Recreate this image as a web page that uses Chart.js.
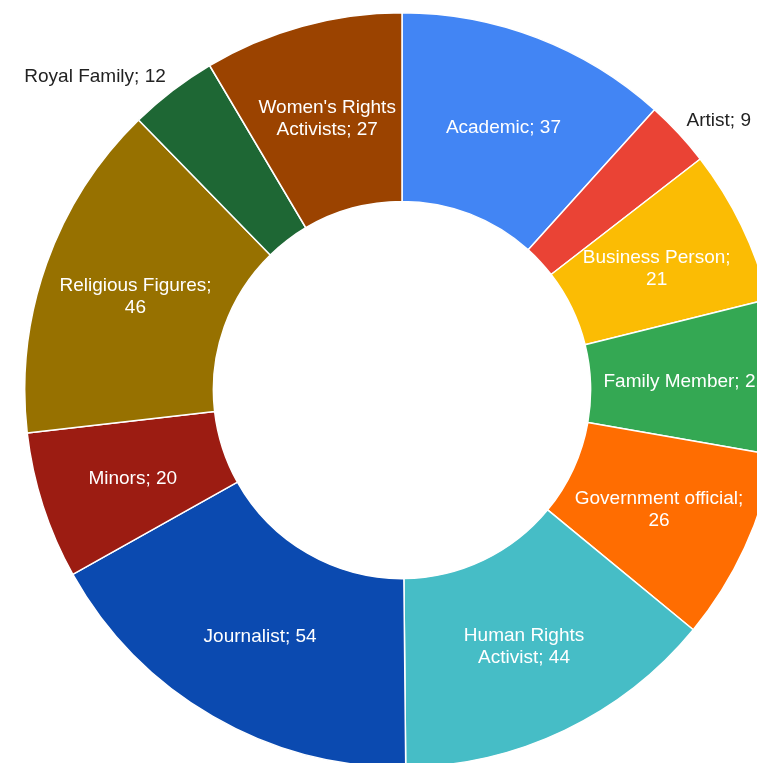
<!DOCTYPE html>
<html>
<head>
<meta charset="utf-8">
<script src="https://cdn.jsdelivr.net/npm/chart.js@4"></script>
<style>
  html, body { margin: 0; padding: 0; background: #fff; overflow: hidden; }
  body { width: 757px; height: 763px; position: relative; }
  #mycanvas { position: absolute; left: 24px; top: 12px; }
</style>
</head>
<body>
<canvas id="mycanvas" width="756" height="756"></canvas>
<script>
// categories and counts, in drawing order (clockwise from 12 o'clock)
var categories = [
  'Academic', 'Artist', 'Business Person', 'Family Member', 'Government official',
  'Human Rights Activist', 'Journalist', 'Minors', 'Religious Figures',
  'Royal Family', "Women's Rights Activists"
];
var counts = [37, 9, 21, 21, 26, 44, 54, 20, 46, 12, 27];
var sliceColors = [
  '#4285F4', '#EA4335', '#FBBC04', '#34A853', '#FF6D01',
  '#46BDC6', '#0B4AB0', '#9C1C12', '#977100', '#1E6734', '#9B4300'
];
// word index where the slice label wraps onto a second line (0 = no wrap)
var wrapAt = [0, 0, 2, 0, 2, 2, 0, 0, 2, 0, 2];

var FONT = '19px "Liberation Sans", Arial, sans-serif';

// draws "Name; value" on each slice, small slices get their label outside
var sliceLabels = {
  id: 'sliceLabels',
  afterDatasetsDraw: function(chart) {
    var ctx = chart.ctx;
    var meta = chart.getDatasetMeta(0);
    var total = counts.reduce(function(a, b) { return a + b; }, 0);
    ctx.save();
    ctx.font = FONT;
    meta.data.forEach(function(arc, i) {
      var text = categories[i] + '; ' + counts[i];
      var p = arc.getProps(['x', 'y', 'startAngle', 'endAngle', 'innerRadius', 'outerRadius'], true);
      var mid = (p.startAngle + p.endAngle) / 2;
      if (counts[i] / total < 0.05) {
        // outside label, no leader line
        var r = p.outerRadius + 11;
        var ox = p.x + Math.cos(mid) * r;
        var oy = p.y + Math.sin(mid) * r;
        ctx.fillStyle = '#222222';
        ctx.textBaseline = 'alphabetic';
        ctx.textAlign = Math.cos(mid) >= 0 ? 'left' : 'right';
        ctx.fillText(text, ox, oy);
        return;
      }
      var lines = [text];
      if (wrapAt[i] > 0) {
        var words = text.split(' ');
        lines = [words.slice(0, wrapAt[i]).join(' '), words.slice(wrapAt[i]).join(' ')];
      }
      var pos = arc.tooltipPosition(true);
      var lh = 22;
      ctx.fillStyle = '#ffffff';
      ctx.textAlign = 'center';
      ctx.textBaseline = 'middle';
      lines.forEach(function(line, k) {
        var y = pos.y + 2 + (k - (lines.length - 1) / 2) * lh;
        ctx.fillText(line, pos.x, y);
      });
    });
    ctx.restore();
  }
};

var chart = new Chart(document.getElementById('mycanvas'), {
  type: 'doughnut',
  data: {
    labels: categories,
    datasets: [{
      data: counts,
      backgroundColor: sliceColors,
      borderColor: '#ffffff',
      borderWidth: 1.5
    }]
  },
  options: {
    responsive: false,
    animation: false,
    cutout: '50%',
    layout: { padding: 0 },
    plugins: {
      legend: { display: false },
      tooltip: { enabled: false }
    }
  },
  plugins: [sliceLabels]
});
</script>
</body>
</html>
